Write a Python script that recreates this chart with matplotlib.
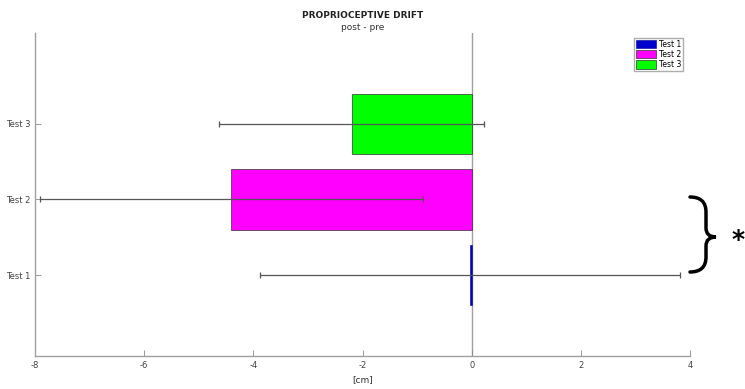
import numpy as np
import matplotlib.pyplot as plt
from matplotlib.path import Path
from matplotlib.patches import PathPatch

labels = ['Test 1', 'Test 2', 'Test 3']
means = [-0.03, -4.4, -2.2]
errors = [3.85, 3.5, 2.43]
colors = ['#0000cc', '#ff00ff', '#00ff00']


def draw_drift():
    plt.rcParams['axes.unicode_minus'] = False
    fig = plt.figure(figsize=(7.45, 3.89), dpi=100)
    ax = fig.add_axes([35 / 745, 1 - 356 / 389, 655 / 745, 323 / 389])

    y = np.arange(1, len(labels) + 1)
    ax.axvline(0, color='#a0a0a0', lw=1, zorder=0)
    bars = ax.barh(y, means, height=0.8, color=colors, edgecolor='#333333',
                   linewidth=0.5, zorder=2)
    bars[0].set_edgecolor('#1a1aa0')
    ax.errorbar(means, y, xerr=errors, fmt='none', ecolor='#555555',
                elinewidth=0.9, capsize=2.5, capthick=0.9, zorder=3)

    ax.set_xlim(-8, 4)
    ax.set_ylim(-0.07, 4.2)
    ax.set_xticks(np.arange(-8, 5, 2))
    ax.set_yticks(y)
    ax.set_yticklabels(labels)
    ax.tick_params(direction='in', length=4, width=0.6, colors='#888888',
                   labelcolor='#444444', labelsize=6)
    for side in ['top', 'right']:
        ax.spines[side].set_visible(False)
    for side in ['left', 'bottom']:
        ax.spines[side].set_color('#a0a0a0')
        ax.spines[side].set_linewidth(1)
    ax.set_xlabel('[cm]', fontsize=6.5, color='#333333', labelpad=4)

    ax.legend(bars, labels, loc='upper right', bbox_to_anchor=(0.989, 0.985),
              fontsize=5.5, frameon=True, fancybox=False, edgecolor='#999999',
              handlelength=2.6, handleheight=1.25, borderpad=0.25,
              labelspacing=0.15, handletextpad=0.35, borderaxespad=0)

    fig.text(362.5 / 745, 1 - 15 / 389, 'PROPRIOCEPTIVE DRIFT', ha='center',
             va='center', fontsize=6.5, fontweight='bold', color='#222222')
    fig.text(362.5 / 745, 1 - 27 / 389, 'post - pre', ha='center',
             va='center', fontsize=6.5, color='#333333')

    # significance brace between Test 1 and Test 2
    W, H = 745.0, 389.0
    pts = [(690, 197),
           (706, 197), (706, 212),
           (706, 228),
           (706, 237), (716, 237),
           (706, 237), (706, 246),
           (706, 257),
           (706, 272), (690, 272)]
    codes = [Path.MOVETO,
             Path.CURVE3, Path.CURVE3,
             Path.LINETO,
             Path.CURVE3, Path.CURVE3,
             Path.CURVE3, Path.CURVE3,
             Path.LINETO,
             Path.CURVE3, Path.CURVE3]
    verts = [(px / W, 1 - py / H) for px, py in pts]
    brace = PathPatch(Path(verts, codes), transform=fig.transFigure,
                      fill=False, lw=2.5, color='black', capstyle='round')
    fig.patches.append(brace)
    fig.text(731 / W, 1 - 240 / H, '*', ha='left', va='center',
             fontsize=18, fontweight='bold', color='black')

    fig.savefig('out.png', dpi=100)


if __name__ == "__main__":
    plt.close('all')
    draw_drift()
